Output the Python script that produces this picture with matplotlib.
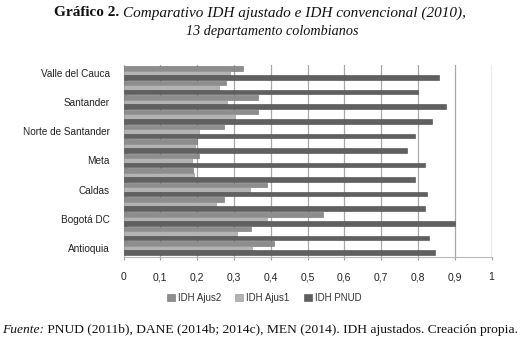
import matplotlib
matplotlib.use("Agg")
import matplotlib.pyplot as plt
import numpy as np

# Data (bottom to top, Antioquia first); odd rows are not labelled in the original
departamentos = ["Antioquia", "Atlántico", "Bogotá DC", "Boyacá", "Caldas",
                 "Cundinamarca", "Meta", "Nariño", "Norte de Santander",
                 "Risaralda", "Santander", "Tolima", "Valle del Cauca"]
idh_ajus2 = [0.41, 0.346, 0.542, 0.272, 0.389, 0.189, 0.204, 0.199, 0.272,
             0.365, 0.365, 0.278, 0.326]
idh_ajus1 = [0.35, 0.309, 0.39, 0.25, 0.345, 0.192, 0.186, 0.194, 0.205,
             0.304, 0.281, 0.26, 0.289]
idh_pnud = [0.846, 0.83, 0.90, 0.82, 0.825, 0.793, 0.819, 0.770, 0.793,
            0.837, 0.876, 0.80, 0.858]
series_names = ["IDH Ajus2", "IDH Ajus1", "IDH PNUD"]
x_ticks = [0, 0.1, 0.2, 0.3, 0.4, 0.5, 0.6, 0.7, 0.8, 0.9, 1]

col_ajus2 = "#8d8d8d"
col_ajus1 = "#b3b3b3"
col_pnud = "#606060"

fig = plt.figure(figsize=(5.2, 3.4), dpi=100)
W, H = 520, 340
ax = fig.add_axes([123.5 / W, 83 / H, 368 / W, 192 / H])

y = np.arange(len(departamentos))
h = 0.31
ax.barh(y + h, idh_ajus2, height=h, color=col_ajus2, edgecolor="#707070", linewidth=0.4, label=series_names[0], zorder=3)
ax.barh(y, idh_ajus1, height=h, color=col_ajus1, edgecolor="#909090", linewidth=0.4, label=series_names[1], zorder=3)
ax.barh(y - h, idh_pnud, height=h, color=col_pnud, edgecolor="#4a4a4a", linewidth=0.4, label=series_names[2], zorder=3)

ax.set_xlim(0, 1)
ax.set_ylim(-0.62, 12.55)
ax.set_xticks(x_ticks)
ax.set_xticklabels([("%g" % v).replace(".", ",") for v in x_ticks],
                   fontsize=7.5, family="Liberation Sans", color="#222222")
ax.set_yticks(y[::2])
ax.set_yticklabels(departamentos[::2], fontsize=7.2, family="Liberation Sans", color="#222222")
ax.set_yticks(y[:-1] + 0.5, minor=True)
ax.tick_params(axis="y", which="major", length=0, pad=10)
ax.tick_params(axis="y", which="minor", length=3, direction="in", color="#b0b0b0")
ax.tick_params(axis="x", length=2, color="#a0a0a0", pad=9)

ax.grid(axis="x", color="#a8a8a8", linewidth=0.9, zorder=0)
for s in ["top", "right"]:
    ax.spines[s].set_visible(False)
ax.spines["left"].set_color("#b8b8b8")
ax.spines["bottom"].set_color("#b8b8b8")
ax.axvline(1, color="#a8a8a8", linewidth=0.9, zorder=0)

fig.legend(loc="center", bbox_to_anchor=(264 / W, 1 - 298 / H), ncol=3, frameon=False,
           prop={"family": "Liberation Sans", "size": 7}, handlelength=0.8, handleheight=0.8,
           handletextpad=0.3, columnspacing=1.5, labelcolor="#333333")


# helper: write text runs of mixed style side by side
def write_runs(runs, x_center, y_px, size):
    renderer = fig.canvas.get_renderer()
    texts = []
    for txt, style, weight in runs:
        t = fig.text(0, 1 - y_px / H, txt, family="Liberation Serif", style=style,
                     weight=weight, fontsize=size, va="center", ha="left", color="#111111")
        texts.append(t)
    widths = [t.get_window_extent(renderer).width for t in texts]
    x = x_center - sum(widths) / 2
    for t, w in zip(texts, widths):
        t.set_x(x / W)
        x += w


fig.canvas.draw()
write_runs([("Gráfico 2. ", "normal", "bold"),
            ("Comparativo IDH ajustado e IDH convencional (2010),", "italic", "normal")], 260, 13, 11)
write_runs([("13 departamento colombianos", "italic", "normal")], 272, 32, 10.2)
write_runs([("Fuente:", "italic", "normal"),
            (" PNUD (2011b), DANE (2014b; 2014c), MEN (2014). IDH ajustados. Creación propia.", "normal", "normal")],
           260, 330, 9.7)

fig.savefig("out.png", dpi=100)
